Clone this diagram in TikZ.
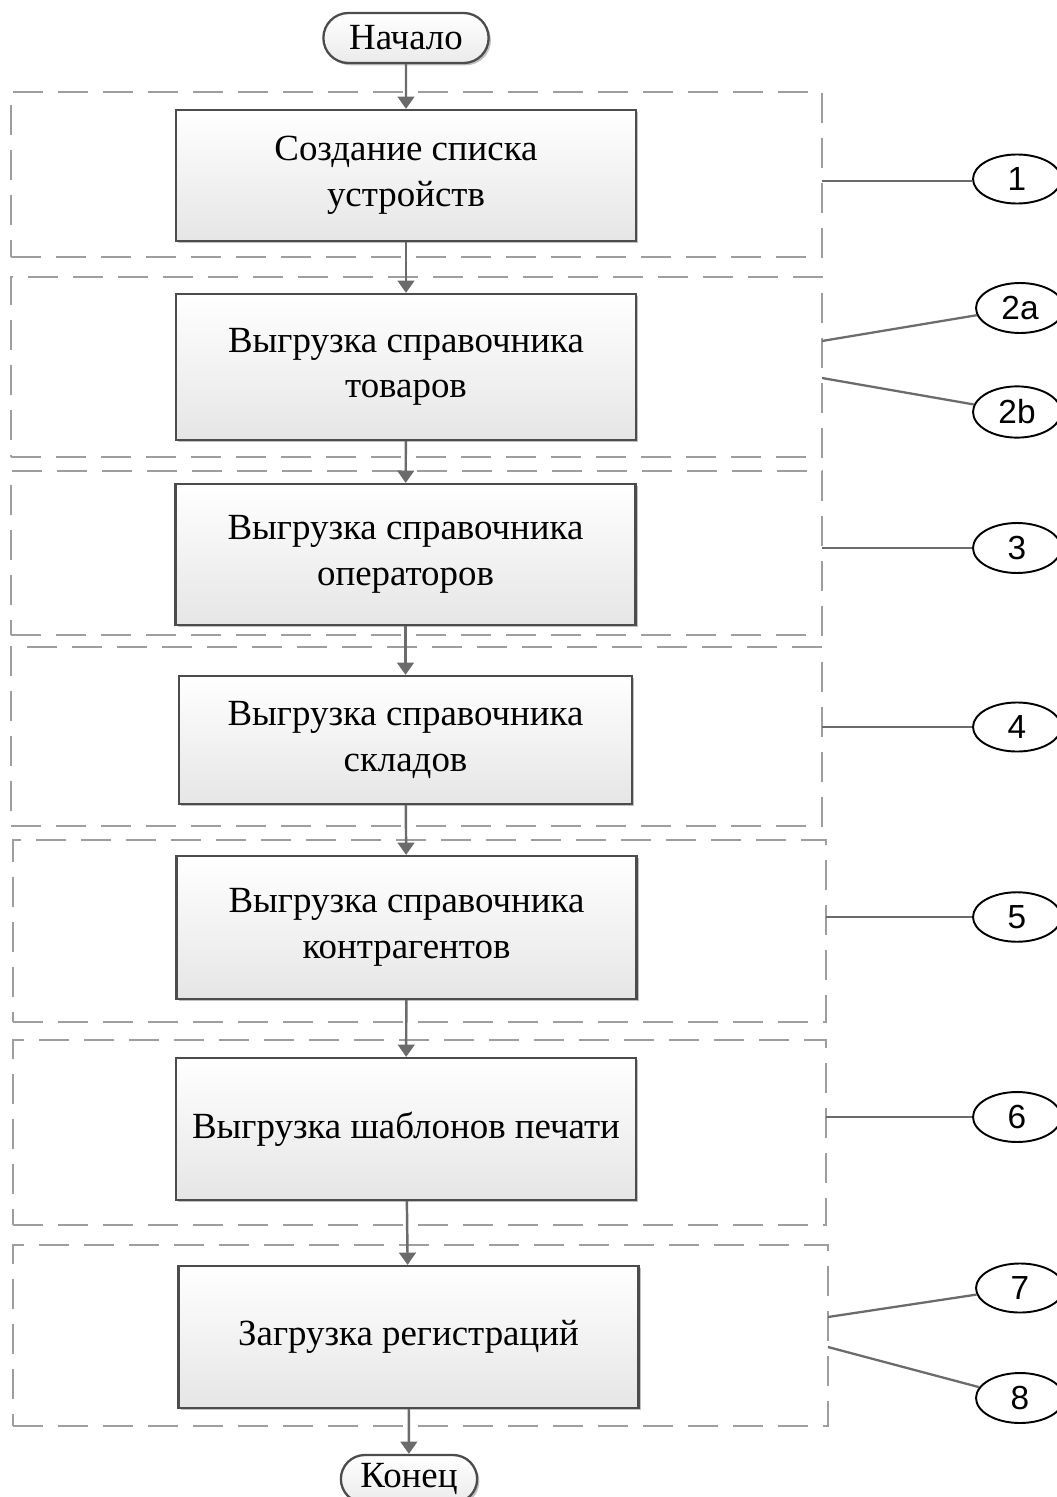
\documentclass[tikz,border=0pt]{standalone}
\usepackage{fontspec}
\setmainfont{Liberation Serif}
\newfontfamily\numfont{Liberation Sans}
\usetikzlibrary{arrows.meta,shadows,shapes.geometric,shapes.misc}
\colorlet{LineGray}{black!58}
\colorlet{DashGray}{black!38}
\colorlet{BoxGray}{black!70}

\tikzset{
  stepbox/.style={draw=BoxGray, line width=1.3pt, top color=white, bottom color=black!10,
    align=center, minimum width=9.2cm, font=\fontsize{21}{26}\selectfont,
    drop shadow={shadow xshift=1.3pt, shadow yshift=-1.3pt, fill=black!45, opacity=0.55}},
  termbox/.style={rounded rectangle, draw=BoxGray, line width=1.3pt, top color=white, bottom color=black!8,
    font=\fontsize{21}{24}\selectfont,
    drop shadow={shadow xshift=1.3pt, shadow yshift=-1.3pt, fill=black!45, opacity=0.55}},
  group/.style={draw=DashGray, line width=1.1pt, dash pattern=on 0.6cm off 0.3cm, minimum width=16.22cm},
  flow/.style={draw=LineGray, line width=1.4pt, -{Triangle[length=7pt,width=9.5pt]}},
  tag/.style={ellipse, draw, line width=1.1pt, minimum width=1.76cm, minimum height=0.98cm,
    font=\numfont\fontsize{19}{20}\selectfont},
  tagline/.style={draw=LineGray, line width=1.3pt},
}

\begin{document}
\begin{tikzpicture}[x=0.02cm,y=-0.02cm]
    \useasboundingbox (0,0) rectangle (1056,1497);

%    dashed groups
    \node[group, minimum height=3.3cm]  (g1) at (416.5,174.5) {};
    \node[group, minimum height=3.6cm]  (g2) at (416.5,367) {};
    \node[group, minimum height=3.28cm] (g3) at (416.5,553) {};
    \node[group, minimum height=3.58cm] (g4) at (416.5,736.5) {};
    \node[group, minimum height=3.64cm, minimum width=16.26cm] (g5) at (419.5,931) {};
    \node[group, minimum height=3.7cm,  minimum width=16.26cm] (g6) at (419.5,1132.5) {};
    \node[group, minimum height=3.62cm, minimum width=16.3cm]  (g7) at (420.5,1335.5) {};

%    steps
    \node[termbox, minimum width=3.54cm, minimum height=1cm] (start) at (406,38) {Начало};
    \node[stepbox, minimum height=2.62cm] (s1) at (406,175.5) {Создание списка\\устройств};
    \node[stepbox, minimum height=2.92cm] (s2) at (406,367) {Выгрузка справочника\\товаров};
    \node[stepbox, minimum height=2.82cm] (s3) at (405.5,554.5) {Выгрузка справочника\\операторов};
    \node[stepbox, minimum height=2.56cm, minimum width=9.06cm] (s4) at (405.5,740) {Выгрузка справочника\\складов};
    \node[stepbox, minimum height=2.86cm] (s5) at (406.5,927.5) {Выгрузка справочника\\контрагентов};
    \node[stepbox, minimum height=2.84cm] (s6) at (406,1129) {Выгрузка шаблонов печати};
    \node[stepbox, minimum height=2.84cm] (s7) at (408.5,1337) {Загрузка регистраций};
    \node[termbox, minimum width=2.96cm, minimum height=0.96cm] (stop) at (409,1479) {Конец};

%    flow
    \draw[flow] (start) -- (s1);
    \draw[flow] (s1) -- (s2);
    \draw[flow] (s2) -- (s3);
    \draw[flow] (s3) -- (s4);
    \draw[flow] (s4) -- (s5);
    \draw[flow] (s5) -- (s6);
    \draw[flow] (s6) -- (s7);
    \draw[flow] (s7) -- (stop);

%    tags
    \node[tag] (t1)  at (1017,179) {1};
    \node[tag] (t2a) at (1020,308) {2a};
    \node[tag] (t2b) at (1017,412) {2b};
    \node[tag] (t3)  at (1017,548) {3};
    \node[tag] (t4)  at (1017,727) {4};
    \node[tag] (t5)  at (1017,917) {5};
    \node[tag] (t6)  at (1017,1117) {6};
    \node[tag] (t7)  at (1020,1288) {7};
    \node[tag] (t8)  at (1020,1398) {8};

    \coordinate (p1)  at (822,181);
    \coordinate (p2a) at (822,341);
    \coordinate (p2b) at (822,378);
    \coordinate (p3)  at (822,548);
    \coordinate (p4)  at (822,727);
    \coordinate (p5)  at (826,917);
    \coordinate (p6)  at (826,1117);
    \coordinate (p7)  at (828,1317);
    \coordinate (p8)  at (828,1347);

    \draw[tagline] (p1) -- (t1.west |- p1);
    \draw[tagline] (p2a) -- (t2a);
    \draw[tagline] (p2b) -- (t2b);
    \draw[tagline] (p3) -- (t3);
    \draw[tagline] (p4) -- (t4);
    \draw[tagline] (p5) -- (t5);
    \draw[tagline] (p6) -- (t6);
    \draw[tagline] (p7) -- (t7);
    \draw[tagline] (p8) -- (t8);

\end{tikzpicture}
\end{document}
